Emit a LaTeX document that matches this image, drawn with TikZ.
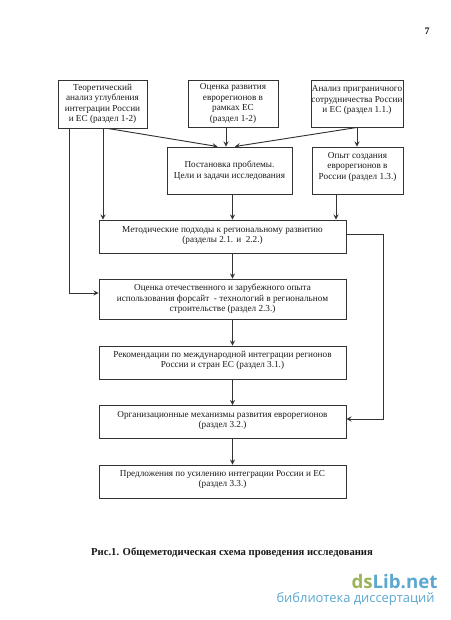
\documentclass[tikz,border=0pt]{standalone}
\usepackage{fontspec}
\setmainfont{Liberation Serif}
\newfontfamily\wmfont{Open Sans}
\definecolor{wmgreen}{HTML}{9BB45A}
\definecolor{wmblue}{HTML}{5BA7CF}
\newcommand{\upby}[2]{\begin{tabular}{@{}c@{}}#2\\[#1]\end{tabular}}
\begin{document}
\begin{tikzpicture}[x=0.75pt, y=-0.75pt,
  every node/.style={font=\fontsize{6.9}{7.9}\selectfont, align=center, text=black!90},
  box/.style={draw=black!80, line width=0.7pt, inner sep=0pt},
  arr/.style={draw=black!80, line width=0.7pt, ->, >=stealth}]
  \useasboundingbox (0,0) rectangle (450,620);
  % top row
  \node[box, minimum width=66.75pt, minimum height=36pt] (teor) at (102.5,104) {Теоретический\\анализ углубления\\интеграции России\\и ЕС (раздел 1-2)};
  \node[box, minimum width=67.5pt, minimum height=35.25pt] (ocen) at (233,103.5) {Оценка развития\\еврорегионов в\\рамках ЕС\\(раздел 1-2)};
  \node[box, minimum width=69pt, minimum height=35.25pt] (anal) at (357,103.5) {\upby{5pt}{Анализ приграничного\\сотрудничества России\\и ЕС (раздел 1.1.)}};
  % second row
  \node[box, minimum width=93.75pt, minimum height=35.25pt] (post) at (229.5,170.5) {Постановка проблемы.\\Цели и задачи исследования};
  \node[box, minimum width=68.25pt, minimum height=35.25pt] (opyt) at (357.5,170.5) {\upby{5.5pt}{Опыт создания\\еврорегионов в\\России (раздел 1.3.)}};
  % main column
  \node[box, minimum width=185.25pt, minimum height=24.75pt] (metod) at (222.5,236.5) {\upby{2pt}{Методические подходы к региональному развитию\\(разделы 2.1. и\ \ 2.2.)}};
  \node[box, minimum width=185.25pt, minimum height=30pt] (forsa) at (222.5,299) {Оценка отечественного и зарубежного опыта\\использования форсайт\ \ - технологий в региональном\\строительстве (раздел 2.3.)};
  \node[box, minimum width=185.25pt, minimum height=24.75pt] (rekom) at (222.5,362.5) {\upby{3.5pt}{Рекомендации по международной интеграции регионов\\России и стран ЕС (раздел 3.1.)}};
  \node[box, minimum width=185.25pt, minimum height=24.75pt] (mehan) at (222.5,422) {\upby{2.5pt}{Организационные механизмы развития еврорегионов\\(раздел 3.2.)}};
  \node[box, minimum width=185.25pt, minimum height=24.75pt] (predl) at (222.5,481.5) {\upby{3pt}{Предложения по усилению интеграции России и ЕС\\(раздел 3.3.)}};
  % columns for the vertical lines
  \coordinate (colfar) at (69,0);
  \coordinate (colleft) at (103,0);
  \coordinate (colocen) at (226,0);
  \coordinate (colmid) at (232.5,0);
  \coordinate (colopyt) at (336,0);
  \coordinate (colanal) at (357,0);
  \coordinate (colright) at (383,0);
  \coordinate (rowout) at (0,234);
  \coordinate (rowin) at (0,419);
  \coordinate (rowfors) at (0,293);
  % arrows
  \draw[arr] (teor.south -| colfar) |- (forsa.west |- rowfors);
  \draw[arr] (teor.south -| colleft) -- (metod.north -| colleft);
  \draw[arr] ([xshift=4pt]teor.south) -- ([xshift=-9pt]post.north);
  \draw[arr] (ocen.south -| colocen) -- (post.north -| colocen);
  \draw[arr] (anal.south) -- ([xshift=4pt]post.north);
  \draw[arr] (anal.south -| colanal) -- (opyt.north -| colanal);
  \draw[arr] (post.south -| colmid) -- (metod.north -| colmid);
  \draw[arr] (opyt.south -| colopyt) -- (metod.north -| colopyt);
  \draw[arr] (metod.south -| colmid) -- (forsa.north -| colmid);
  \draw[arr] (forsa.south -| colmid) -- (rekom.north -| colmid);
  \draw[arr] (rekom.south -| colmid) -- (mehan.north -| colmid);
  \draw[arr] (mehan.south -| colmid) -- (predl.north -| colmid);
  \draw[arr] (metod.east |- rowout) -| (colright |- rowin) -- (mehan.east |- rowin);
  % page text
  \node[font=\fontsize{7.5}{9}\selectfont\bfseries] (pagenum) at (427,31) {7};
  \node[font=\fontsize{8}{10}\selectfont\bfseries] (caption) at (232,553) {Рис.1. Общеметодическая схема проведения исследования};
  \node[font=\fontsize{14}{16}\selectfont\wmfont\bfseries, text=wmblue] (wmtop) at (394.5,582) {\textcolor{wmgreen}{ds}Lib.net};
  \node[font=\fontsize{9.7}{11}\selectfont\wmfont, text=wmblue] (wmbot) at (355.5,599) {библиотека диссертаций};
\end{tikzpicture}
\end{document}
